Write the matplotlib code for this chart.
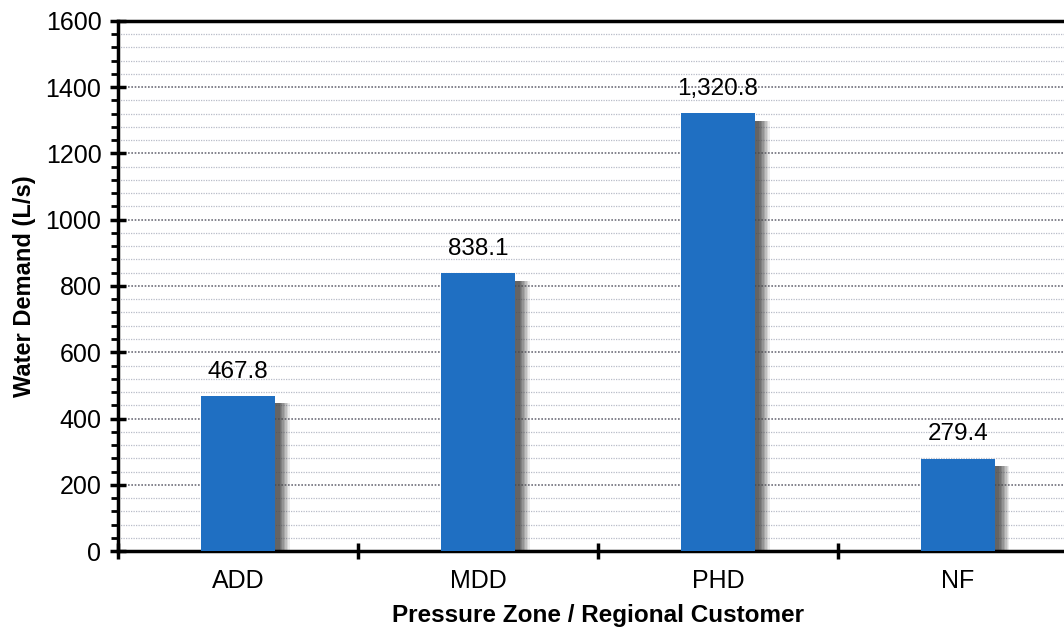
import numpy as np
import matplotlib.pyplot as plt
from matplotlib.ticker import MultipleLocator

plt.rcParams['font.family'] = ['Liberation Sans', 'DejaVu Sans']

categories = ['ADD', 'MDD', 'PHD', 'NF']
demand = [467.8, 838.1, 1320.8, 279.4]
value_labels = ['467.8', '838.1', '1,320.8', '279.4']

fig = plt.figure(figsize=(10.64, 6.32), dpi=100)
ax = fig.add_axes([0.111, 0.128, 0.902, 0.839])

x = np.arange(len(categories))
bar_w = 0.31

# fuzzy drop shadow on the right side of each bar
for k in range(8):
    off = 0.060 - k * 0.006
    ax.bar(x + off, np.array(demand) - 22, width=bar_w, bottom=0,
           color='#4a4a4a', alpha=0.10 + k * 0.03, zorder=2, linewidth=0)

ax.bar(x, demand, width=bar_w, color='#1f6fc2', zorder=3, linewidth=0)

for xi, v, lab in zip(x, demand, value_labels):
    ax.text(xi, v + 40, lab, ha='center', va='bottom', fontsize=17.5, zorder=4)

ax.set_xlim(-0.5, len(categories) - 0.5)
ax.set_ylim(0, 1600)
ax.yaxis.set_major_locator(MultipleLocator(200))
ax.yaxis.set_minor_locator(MultipleLocator(40))
ax.set_xticks(x)
ax.set_xticklabels(categories, fontsize=18)
ax.set_xticks(np.arange(len(categories) + 1) - 0.5, minor=True)
ax.tick_params(axis='x', which='major', length=0, pad=13)
ax.tick_params(axis='x', which='minor', direction='inout', length=12, width=2.5)
ax.tick_params(axis='y', which='major', direction='inout', length=12, width=2.5,
               labelsize=18, pad=6)
ax.tick_params(axis='y', which='minor', direction='out', length=5, width=2)

ax.grid(axis='y', which='major', color='#6f6f7a', linestyle=(0, (1, 1)),
        linewidth=1.2, zorder=0)
ax.grid(axis='y', which='minor', color='#b8bcc8', linestyle=(0, (1, 1)),
        linewidth=0.9, zorder=0)
ax.set_axisbelow(True)

for side in ['left', 'bottom', 'top', 'right']:
    ax.spines[side].set_linewidth(2.5)

ax.set_ylabel('Water Demand (L/s)', fontsize=17, fontweight='bold', labelpad=7)
ax.set_xlabel('Pressure Zone / Regional Customer', fontsize=17.5,
              fontweight='bold', labelpad=8)

plt.savefig('out.png', dpi=100)
